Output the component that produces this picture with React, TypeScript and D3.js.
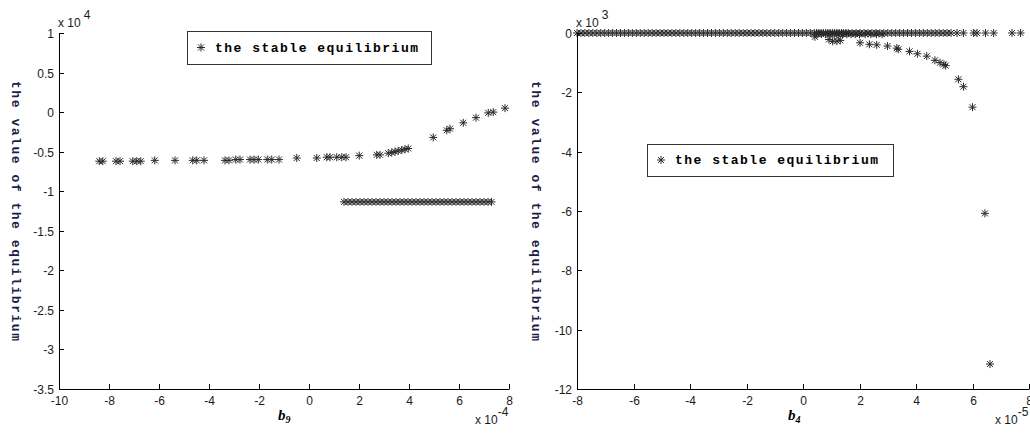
import React from "react";
import * as d3 from "d3";

// ---- Left panel (x in 1e-4, y in 1e4) ----
const leftXTicks = [-10, -8, -6, -4, -2, 0, 2, 4, 6, 8];
const leftYTicks = [1, 0.5, 0, -0.5, -1, -1.5, -2, -2.5, -3, -3.5];
const leftUpperX = [-8.39, -8.25, -7.72, -7.56, -7.05, -6.89, -6.73, -6.17, -5.36, -4.65, -4.49, -4.2, -3.36, -3.2, -2.93, -2.76, -2.36, -2.2, -2.03, -1.67, -1.49, -1.2, -0.49, 0.31, 0.71, 0.84, 1.11, 1.31, 1.48, 2.01, 2.71, 2.84, 3.17, 3.31, 3.44, 3.57, 3.71, 3.84, 3.97, 4.97, 5.51, 5.64, 6.17, 6.68, 7.17, 7.37, 7.84];
const leftUpperY = [-0.62, -0.62, -0.62, -0.62, -0.62, -0.62, -0.62, -0.61, -0.61, -0.61, -0.61, -0.61, -0.61, -0.61, -0.6, -0.6, -0.6, -0.6, -0.6, -0.6, -0.6, -0.6, -0.58, -0.58, -0.57, -0.57, -0.57, -0.57, -0.57, -0.55, -0.54, -0.54, -0.52, -0.51, -0.5, -0.49, -0.48, -0.47, -0.46, -0.32, -0.23, -0.21, -0.135, -0.07, -0.01, 0.0, 0.05];
const leftLowerX = [1.4, 1.56, 1.72, 1.88, 2.04, 2.2, 2.36, 2.52, 2.68, 2.84, 3.0, 3.16, 3.32, 3.48, 3.64, 3.8, 3.96, 4.12, 4.28, 4.44, 4.6, 4.76, 4.92, 5.08, 5.24, 5.4, 5.56, 5.72, 5.88, 6.04, 6.2, 6.36, 6.52, 6.68, 6.84, 7.0, 7.16, 7.3];
const leftLowerValue = -1.135;

// ---- Right panel (x in 1e-5, y in 1e3) ----
const rightXTicks = [-8, -6, -4, -2, 0, 2, 4, 6, 8];
const rightYTicks = [0, -2, -4, -6, -8, -10, -12];
const rightZeroX = [-8.0, -7.86, -7.72, -7.58, -7.44, -7.3, -7.16, -7.02, -6.88, -6.74, -6.6, -6.46, -6.32, -6.18, -6.04, -5.9, -5.76, -5.62, -5.48, -5.34, -5.2, -5.06, -4.92, -4.78, -4.64, -4.5, -4.36, -4.22, -4.08, -3.94, -3.8, -3.66, -3.52, -3.38, -3.24, -3.1, -2.96, -2.82, -2.68, -2.54, -2.4, -2.26, -2.12, -1.98, -1.84, -1.7, -1.56, -1.42, -1.28, -1.14, -1.0, -0.86, -0.72, -0.58, -0.44, -0.3, -0.16, -0.02, 0.12, 0.26, 0.4, 0.48, 0.56, 0.64, 0.72, 0.8, 0.88, 0.96, 1.04, 1.12, 1.2, 1.28, 1.36, 1.44, 1.52, 1.6, 1.74, 1.88, 2.02, 2.16, 2.3, 2.44, 2.58, 2.72, 2.86, 3.0, 3.14, 3.28, 3.42, 3.56, 3.7, 3.84, 3.98, 4.12, 4.26, 4.4, 4.54, 4.68, 4.82, 4.96, 5.1, 5.24, 5.45, 5.68, 6.04, 6.16, 6.46, 6.75, 7.4, 7.7];
const rightBandX = [0.5, 0.65, 0.8, 0.95, 1.1, 1.25, 1.4, 1.55, 1.7, 1.85, 2.0, 2.2, 2.4, 2.6, 2.8];
const rightBandValue = -0.04;
const rightDipX = [0.42, 0.92, 1.05, 1.2, 1.32];
const rightDipY = [-0.13, -0.22, -0.28, -0.27, -0.25];
const rightBranchX = [2.02, 2.35, 2.61, 2.99, 3.32, 3.37, 3.77, 4.05, 4.38, 4.67, 4.85, 4.99, 5.05, 5.5, 5.68, 6.0, 6.44, 6.62];
const rightBranchY = [-0.33, -0.38, -0.4, -0.44, -0.51, -0.55, -0.62, -0.7, -0.78, -0.92, -1.0, -1.06, -1.1, -1.56, -1.81, -2.5, -6.08, -11.16];

const legendText = "the stable equilibrium";
const yLabelText = "the value of the equilibrium";

const STAR = "M-4,0H4M0,-4V4M-3,-3L3,3M-3,3L3,-3";

type Pt = [number, number];

function Star({ x, y }: { x: number; y: number }) {
  return <path d={STAR} transform={`translate(${x},${y})`} stroke="#2a2a2a" strokeWidth={1} fill="none" />;
}

function Panel(props: {
  x0: number; x1: number; y0: number; y1: number;
  xDomain: [number, number]; yDomain: [number, number];
  xTicks: number[]; yTicks: number[];
  points: Pt[];
  xExp: string; yExp: string; sub: string; subX: number;
  legend: { x: number; y: number; w: number; h: number };
  yLabelX: number;
}) {
  const { x0, x1, y0, y1 } = props;
  const xs = d3.scaleLinear().domain(props.xDomain).range([x0, x1]);
  const ys = d3.scaleLinear().domain(props.yDomain).range([y1, y0]);
  const tickFont = { fontFamily: "'Liberation Sans', Arial, sans-serif", fontSize: 12, fill: "#1a1a1a" };
  const lg = props.legend;
  return (
    <g>
      {props.points.map((p, i) => (
        <Star key={i} x={xs(p[0])} y={ys(p[1])} />
      ))}
      <line x1={x0 + 0.5} x2={x0 + 0.5} y1={y0} y2={y1 + 0.5} stroke="#000" />
      <line x1={x0} x2={x1 + 0.5} y1={y1 + 0.5} y2={y1 + 0.5} stroke="#000" />
      {props.xTicks.map((t) => {
        const px = Math.round(xs(t)) + 0.5;
        return (
          <g key={"x" + t}>
            <line x1={px} x2={px} y1={y1} y2={y1 - 5} stroke="#000" />
            <text x={px} y={y1 + 16} textAnchor="middle" {...tickFont}>{t}</text>
          </g>
        );
      })}
      {props.yTicks.map((t) => {
        const py = Math.round(ys(t)) + 0.5;
        return (
          <g key={"y" + t}>
            <line x1={x0} x2={x0 + 5} y1={py} y2={py} stroke="#000" />
            <text x={x0 - 5} y={py + 4} textAnchor="end" {...tickFont}>{t}</text>
          </g>
        );
      })}
      <text x={x0 - 1} y={y0 - 6} {...tickFont}>
        x 10<tspan dx={3} dy={-8} fontSize={12}>{props.yExp}</tspan>
      </text>
      <text x={x1 - 34} y={y1 + 35} {...tickFont}>
        x 10<tspan dy={-8} fontSize={12}>{props.xExp}</tspan>
      </text>
      <text x={props.subX} y={y1 + 31} fontFamily="'Liberation Serif', 'Times New Roman', serif" fontWeight="bold" fontStyle="italic" fontSize={15} fill="#000">
        b<tspan dy={3} fontSize={10}>{props.sub}</tspan>
      </text>
      <text
        transform={`translate(${props.yLabelX},${(y0 + y1) / 2}) rotate(90)`}
        textAnchor="middle"
        fontFamily="'Liberation Mono', 'DejaVu Sans Mono', monospace"
        fontWeight="bold"
        fontSize={13}
        fill="#1c1c4a"
        textLength={260}
        lengthAdjust="spacing"
      >
        {yLabelText}
      </text>
      <rect x={lg.x + 0.5} y={lg.y + 0.5} width={lg.w} height={lg.h} fill="#fff" stroke="#333" />
      <Star x={lg.x + 14} y={lg.y + lg.h / 2} />
      <text
        x={lg.x + 28}
        y={lg.y + lg.h / 2 + 4}
        fontFamily="'Liberation Mono', 'DejaVu Sans Mono', monospace"
        fontWeight="bold"
        fontSize={13}
        fill="#000"
        textLength={203}
        lengthAdjust="spacing"
      >
        {legendText}
      </text>
    </g>
  );
}

export default function App() {
  const leftPts: Pt[] = [
    ...leftUpperX.map((x, i) => [x, leftUpperY[i]] as Pt),
    ...leftLowerX.map((x) => [x, leftLowerValue] as Pt),
  ];
  const rightPts: Pt[] = [
    ...rightZeroX.map((x) => [x, 0] as Pt),
    ...rightBandX.map((x) => [x, rightBandValue] as Pt),
    ...rightDipX.map((x, i) => [x, rightDipY[i]] as Pt),
    ...rightBranchX.map((x, i) => [x, rightBranchY[i]] as Pt),
  ];
  return (
    <svg width={1030} height={439} style={{ position: "absolute", left: 0, top: 0, background: "#fff" }}>
      <rect width={1030} height={439} fill="#fff" />
      <Panel
        x0={59} x1={509} y0={33} y1={389}
        xDomain={[-10, 8]} yDomain={[-3.5, 1]}
        xTicks={leftXTicks} yTicks={leftYTicks}
        points={leftPts}
        xExp="-4" yExp="4" sub="9" subX={278}
        legend={{ x: 187, y: 31, w: 244, h: 33 }}
        yLabelX={12}
      />
      <Panel
        x0={577} x1={1029} y0={33} y1={389}
        xDomain={[-8, 8]} yDomain={[-12, 0]}
        xTicks={rightXTicks} yTicks={rightYTicks}
        points={rightPts}
        xExp="-5" yExp="3" sub="4" subX={788}
        legend={{ x: 647, y: 144, w: 246, h: 32 }}
        yLabelX={532}
      />
    </svg>
  );
}
